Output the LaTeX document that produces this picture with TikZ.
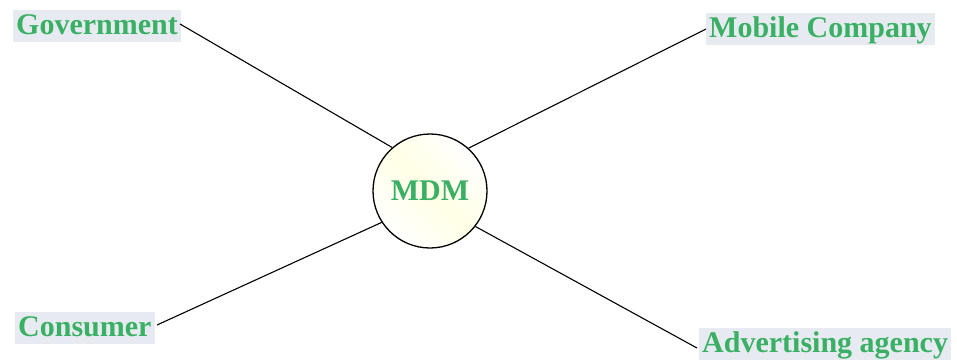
\documentclass[tikz,border=0pt]{standalone}
\usepackage{fontspec}
\setmainfont{Liberation Serif}
\definecolor{labgreen}{RGB}{58,176,100}
\definecolor{labbg}{RGB}{231,235,241}
\begin{document}
\begin{tikzpicture}[x=1pt,y=-1pt,
  lab/.style={fill=labbg, text=labgreen, font=\fontsize{30}{32}\selectfont\bfseries,
    inner xsep=3pt, inner ysep=1pt, text height=23pt, text depth=7pt, anchor=base west},
  hub/.style={circle, draw=black, line width=1.3pt, minimum size=114pt, inner sep=0pt,
    left color=white, right color=white, middle color=yellow!10, shading angle=135,
    text=labgreen, font=\fontsize{30}{32}\selectfont\bfseries},
  link/.style={draw=black, line width=1.1pt}]
\useasboundingbox (0,0) rectangle (957,359);
\node[hub] (mdm) at (430,191) {MDM};
\node[lab] (gov) at (13,34) {Government};
\node[lab] (mob) at (706,37) {Mobile Company};
\node[lab] (con) at (15,336) {Consumer};
\node[lab] (adv) at (699,352) {Advertising agency};
\coordinate (gov-end) at (180,24);
\coordinate (con-end) at (157,325);
\coordinate (adv-end) at (697,348);
\draw[link] (gov-end) -- (mdm.131);
\draw[link] (mob.west) -- (mdm.48);
\draw[link] (con-end) -- (mdm.213);
\draw[link] (adv-end) -- (mdm.-38);
\end{tikzpicture}
\end{document}
